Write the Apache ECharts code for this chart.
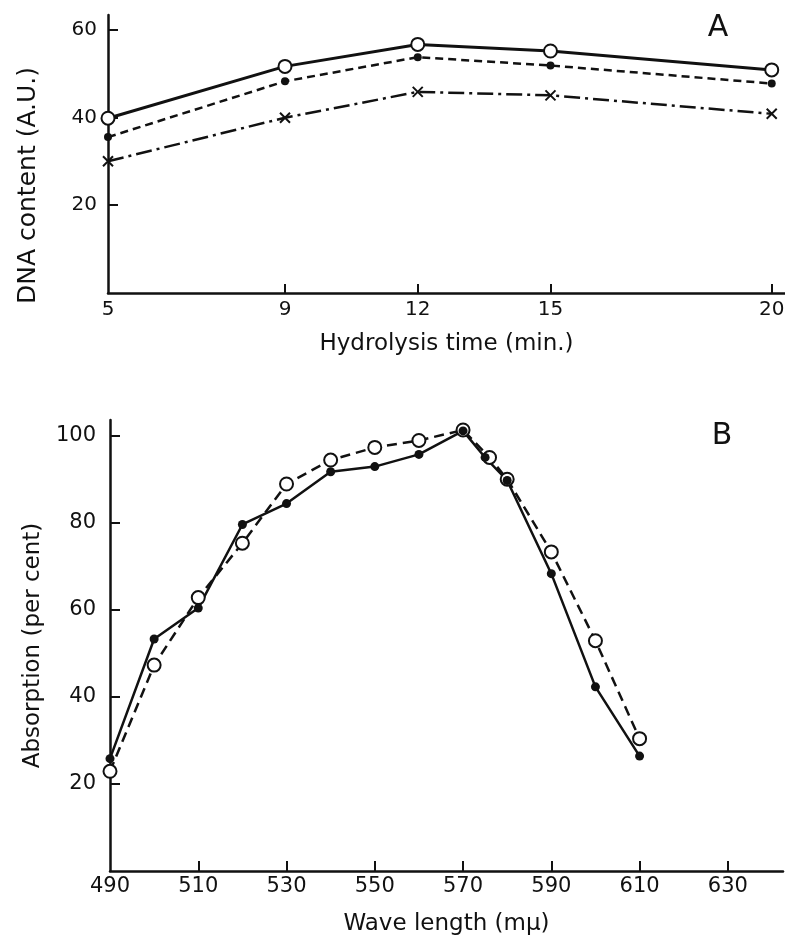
<!DOCTYPE html>
<html>
<head>
<meta charset="utf-8">
<title>DNA content / Absorption</title>
<script src="https://cdn.jsdelivr.net/npm/echarts@6/dist/echarts.min.js"></script>
<style>
  html, body { margin: 0; padding: 0; background: #fff; }
  #main { width: 785px; height: 936px; }
</style>
</head>
<body>
<div id="main"></div>
<script>
// panel A : hydrolysis time (min.)
var timeA = [5, 9, 12, 15, 20];
var openA = [39.8, 51.6, 56.6, 55.1, 50.8];   // solid line, open circles
var dotA = [35.5, 48.2, 53.7, 51.8, 47.7];    // dashed line, filled dots
var crossA = [30.0, 39.9, 45.8, 45.0, 40.8];  // dash-dot line, crosses
var ticksXA = [5, 9, 12, 15, 20];
var ticksYA = [20, 40, 60];

// panel B : wave length (mu)
var wlSolid = [490, 500, 510, 520, 530, 540, 550, 560, 570, 575, 580, 590, 600, 610];
var absSolid = [25.8, 53.3, 60.4, 79.6, 84.4, 91.7, 92.9, 95.7, 101.1, 95.0, 89.7, 68.3, 42.3, 26.4];
var wlDash = [490, 500, 510, 520, 530, 540, 550, 560, 570, 576, 580, 590, 600, 610];
var absDash = [22.9, 47.3, 62.8, 75.3, 88.9, 94.4, 97.3, 98.9, 101.3, 95.0, 90.0, 73.3, 52.9, 30.4];
var ticksXB = [490, 510, 530, 550, 570, 590, 610, 630];
var ticksYB = [20, 40, 60, 80, 100];

var INK = '#111';
var FONT = 'DejaVu Sans';

function pairs(xs, ys) {
    return xs.map(function (x, i) { return [x, ys[i]]; });
}

function axisBase(extra) {
    var base = {
        type: 'value',
        splitLine: { show: false },
        axisLine: { lineStyle: { color: INK, width: 2.5 } },
        nameLocation: 'middle'
    };
    for (var k in extra) base[k] = extra[k];
    return base;
}

var chart = echarts.init(document.getElementById('main'), null, { renderer: 'canvas' });

var option = {
    animation: false,
    backgroundColor: '#fff',
    textStyle: { fontFamily: FONT, color: INK },
    grid: [
        { left: 108, top: 15, width: 677, height: 278, outerBoundsMode: 'none' },
        { left: 110, top: 420, width: 673, height: 451, outerBoundsMode: 'none' }
    ],
    graphic: [
        { type: 'text', x: 718, y: 28, style: { text: 'A', fontSize: 30, fontFamily: FONT, fill: INK, align: 'center', verticalAlign: 'middle' } },
        { type: 'text', x: 722, y: 436, style: { text: 'B', fontSize: 30, fontFamily: FONT, fill: INK, align: 'center', verticalAlign: 'middle' } }
    ],
    xAxis: [
        axisBase({
            gridIndex: 0, min: 5, max: 20.3,
            name: 'Hydrolysis time (min.)', nameGap: 40,
            nameTextStyle: { fontSize: 23, color: INK, fontFamily: FONT },
            axisTick: { inside: true, length: 9, customValues: ticksXA.slice(1), lineStyle: { color: INK, width: 2 } },
            axisLabel: { customValues: ticksXA, fontSize: 20, margin: 7, color: INK, fontFamily: FONT }
        }),
        axisBase({
            gridIndex: 1, min: 490, max: 642.5,
            name: 'Wave length (m\u03bc)', nameGap: 42,
            nameTextStyle: { fontSize: 23, color: INK, fontFamily: FONT },
            axisTick: { inside: true, length: 10, customValues: ticksXB.slice(1), lineStyle: { color: INK, width: 2 } },
            axisLabel: { customValues: ticksXB, fontSize: 21, margin: 5, color: INK, fontFamily: FONT }
        })
    ],
    yAxis: [
        axisBase({
            gridIndex: 0, min: 0, max: 63.3,
            name: 'DNA content (A.U.)', nameGap: 67,
            nameTextStyle: { fontSize: 25, color: INK, fontFamily: FONT, padding: [0, 63, 0, 0] },
            axisTick: { inside: true, length: 10, customValues: ticksYA, lineStyle: { color: INK, width: 2 } },
            axisLabel: { customValues: ticksYA, fontSize: 20, margin: 11, color: INK, fontFamily: FONT }
        }),
        axisBase({
            gridIndex: 1, min: 0, max: 103.6,
            name: 'Absorption (per cent)', nameGap: 61,
            nameTextStyle: { fontSize: 23, color: INK, fontFamily: FONT },
            axisTick: { inside: true, length: 10, customValues: ticksYB, lineStyle: { color: INK, width: 2 } },
            axisLabel: { customValues: ticksYB, fontSize: 21, margin: 14, color: INK, fontFamily: FONT }
        })
    ],
    series: [
        // A
        {
            type: 'line', xAxisIndex: 0, yAxisIndex: 0, clip: false,
            data: pairs(timeA, dotA),
            symbol: 'circle', symbolSize: 8,
            lineStyle: { color: INK, width: 2.5, type: [8, 5] },
            itemStyle: { color: INK }
        },
        {
            type: 'line', xAxisIndex: 0, yAxisIndex: 0, clip: false,
            data: pairs(timeA, crossA),
            symbol: 'path://M0,0L10,10M10,0L0,10', symbolSize: 10,
            lineStyle: { color: INK, width: 2.5, type: [16, 5, 3, 5] },
            itemStyle: { color: 'rgba(0,0,0,0)', borderColor: INK, borderWidth: 2 }
        },
        {
            type: 'line', xAxisIndex: 0, yAxisIndex: 0, clip: false,
            data: pairs(timeA, openA),
            symbol: 'circle', symbolSize: 13,
            lineStyle: { color: INK, width: 3 },
            itemStyle: { color: '#fff', borderColor: INK, borderWidth: 2 }
        },
        // B
        {
            type: 'line', xAxisIndex: 1, yAxisIndex: 1, clip: false,
            data: pairs(wlDash, absDash),
            symbol: 'circle', symbolSize: 13,
            lineStyle: { color: INK, width: 2.5, type: [10, 6] },
            itemStyle: { color: '#fff', borderColor: INK, borderWidth: 2 }
        },
        {
            type: 'line', xAxisIndex: 1, yAxisIndex: 1, clip: false,
            data: pairs(wlSolid, absSolid),
            symbol: 'circle', symbolSize: 9,
            lineStyle: { color: INK, width: 2.5 },
            itemStyle: { color: INK }
        }
    ]
};

chart.setOption(option);
</script>
</body>
</html>
